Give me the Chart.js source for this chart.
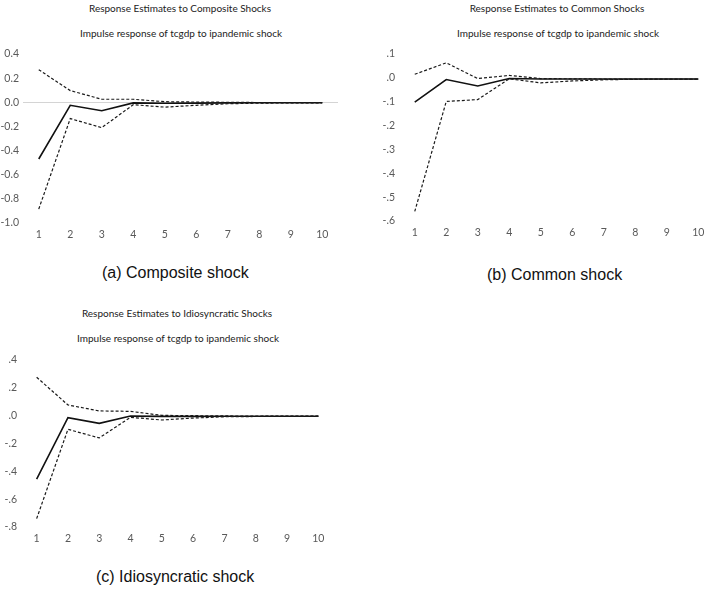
<!DOCTYPE html>
<html>
<head>
<meta charset="utf-8">
<script src="https://cdn.jsdelivr.net/npm/chart.js@4"></script>
<style>
  body { margin: 0; background: #fff; width: 715px; height: 590px; position: relative; overflow: hidden; }
  canvas { position: absolute; }
  .ttl { position: absolute; font-family: Lato, sans-serif; font-size: 10px; color: #222; text-align: center; white-space: nowrap; }
  .cap { position: absolute; font-family: "Liberation Sans", Arial, sans-serif; font-size: 16px; color: #111; white-space: nowrap; }
</style>
</head>
<body>

<div class="ttl" style="left:80px; width:200px; top:2px;">Response Estimates to Composite Shocks</div>
<div class="ttl" style="left:80px; width:200px; top:27px;">Impulse response of tcgdp to ipandemic shock</div>
<canvas id="chartA" width="345" height="210" style="left:0; top:40px;"></canvas>
<div class="cap" style="left:102px; top:264px;">(a) Composite shock</div>

<div class="ttl" style="left:457px; width:200px; top:2px;">Response Estimates to Common Shocks</div>
<div class="ttl" style="left:457px; width:200px; top:27px;">Impulse response of tcgdp to ipandemic shock</div>
<canvas id="chartB" width="343" height="210" style="left:372px; top:40px;"></canvas>
<div class="cap" style="left:487px; top:266px;">(b) Common shock</div>

<div class="ttl" style="left:77px; width:200px; top:307px;">Response Estimates to Idiosyncratic Shocks</div>
<div class="ttl" style="left:77px; width:200px; top:332px;">Impulse response of tcgdp to ipandemic shock</div>
<canvas id="chartC" width="345" height="210" style="left:0; top:345px;"></canvas>
<div class="cap" style="left:96px; top:568px;">(c) Idiosyncratic shock</div>

<script>
// horizons (periods after the shock)
const horizons = ['1', '2', '3', '4', '5', '6', '7', '8', '9', '10'];

// (a) composite shock
const compositeIrf   = [-0.47, -0.025, -0.07, -0.005, -0.008, -0.007, -0.005, -0.004, -0.004, -0.004];
const compositeUpper = [0.27, 0.097, 0.025, 0.025, 0.005, 0.002, 0.0, -0.002, -0.003, -0.003];
const compositeLower = [-0.885, -0.135, -0.21, -0.02, -0.04, -0.025, -0.012, -0.007, -0.005, -0.004];
const compositeTicks = [0.4, 0.2, 0.0, -0.2, -0.4, -0.6, -0.8, -1.0];
const compositeTickLabels = ['0.4', '0.2', '0.0', '-0.2', '-0.4', '-0.6', '-0.8', '-1.0'];

// (b) common shock
const commonIrf   = [-0.102, -0.007, -0.034, -0.003, -0.005, -0.005, -0.005, -0.005, -0.005, -0.005];
const commonUpper = [0.015, 0.063, -0.003, 0.01, -0.003, -0.004, -0.005, -0.005, -0.005, -0.005];
const commonLower = [-0.56, -0.099, -0.091, -0.004, -0.021, -0.013, -0.008, -0.006, -0.005, -0.005];
const commonTicks = [0.1, 0.0, -0.1, -0.2, -0.3, -0.4, -0.5, -0.6];
const commonTickLabels = ['.1', '.0', '-.1', '-.2', '-.3', '-.4', '-.5', '-.6'];

// (c) idiosyncratic shock
const idioIrf   = [-0.456, -0.015, -0.055, -0.003, -0.005, -0.005, -0.004, -0.004, -0.004, -0.004];
const idioUpper = [0.276, 0.077, 0.034, 0.031, 0.002, 0.0, -0.002, -0.003, -0.004, -0.004];
const idioLower = [-0.74, -0.098, -0.16, -0.012, -0.031, -0.017, -0.008, -0.006, -0.005, -0.004];
const idioTicks = [0.4, 0.2, 0.0, -0.2, -0.4, -0.6, -0.8];
const idioTickLabels = ['.4', '.2', '.0', '-.2', '-.4', '-.6', '-.8'];

function makeIrfChart(id, irf, upper, lower, tickValues, tickLabels, box) {
    const ctx = document.getElementById(id).getContext('2d');
    const band = {
        borderColor: '#1a1a1a',
        borderWidth: 1.2,
        borderDash: [3, 2],
        pointRadius: 0,
        fill: false,
        tension: 0
    };
    return new Chart(ctx, {
        type: 'line',
        data: {
            labels: horizons,
            datasets: [
                Object.assign({ label: 'upper', data: upper }, band),
                Object.assign({ label: 'lower', data: lower }, band),
                {
                    label: 'irf',
                    data: irf,
                    borderColor: '#111',
                    borderWidth: 1.6,
                    pointRadius: 0,
                    fill: false,
                    tension: 0
                }
            ]
        },
        options: {
            responsive: false,
            animation: false,
            devicePixelRatio: 1,
            layout: { padding: { top: box.top, right: box.right, left: 0, bottom: 0 } },
            plugins: { legend: { display: false }, tooltip: { enabled: false } },
            scales: {
                x: {
                    offset: true,
                    grid: { display: false, drawTicks: false },
                    border: { display: false },
                    ticks: { color: '#595959', font: { family: 'Lato', size: 10.5 }, padding: 5, maxRotation: 0 },
                    afterFit: scale => { scale.height = box.xh; }
                },
                y: {
                    min: tickValues[tickValues.length - 1],
                    max: tickValues[0],
                    afterBuildTicks: scale => {
                        scale.ticks = tickValues.map(v => ({ value: v }));
                    },
                    grid: {
                        drawTicks: false,
                        color: c => (box.zeroLine && c.tick && Math.abs(c.tick.value) < 1e-9) ? '#d4d4d4' : 'rgba(0,0,0,0)'
                    },
                    border: { display: false },
                    ticks: {
                        color: '#595959',
                        font: { family: 'Lato', size: 10.5 },
                        padding: 4,
                        callback: (v, i) => tickLabels[i]
                    },
                    afterFit: scale => { scale.width = box.yw; }
                }
            }
        }
    });
}

makeIrfChart('chartA', compositeIrf, compositeUpper, compositeLower, compositeTicks, compositeTickLabels,
    { top: 14, right: 7, xh: 27, yw: 23, zeroLine: true });
makeIrfChart('chartB', commonIrf, commonUpper, commonLower, commonTicks, commonTickLabels,
    { top: 14, right: 1, xh: 29, yw: 27, zeroLine: false });
makeIrfChart('chartC', idioIrf, idioUpper, idioLower, idioTicks, idioTickLabels,
    { top: 15, right: 11, xh: 28, yw: 21, zeroLine: false });
</script>
</body>
</html>
